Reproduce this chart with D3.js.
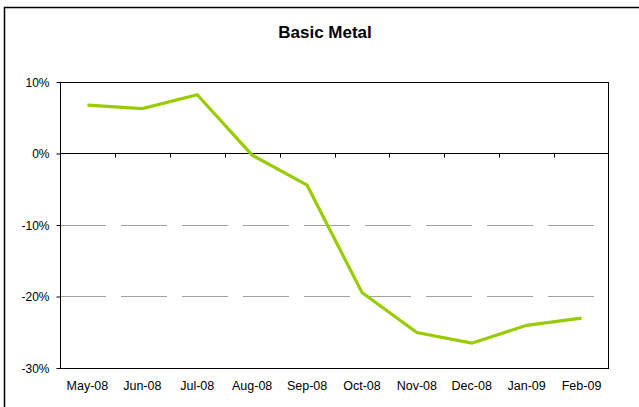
<!DOCTYPE html>
<html>
<head>
<meta charset="utf-8">
<script src="https://cdn.jsdelivr.net/npm/d3@7"></script>
<style>
  body { margin: 0; background: #fff; }
  text { font-family: "Liberation Sans", Arial, sans-serif; fill: #000; }
</style>
</head>
<body>
<script>
// data
var months = ["May-08", "Jun-08", "Jul-08", "Aug-08", "Sep-08", "Oct-08", "Nov-08", "Dec-08", "Jan-09", "Feb-09"];
var values = [6.7, 6.2, 8.15, -0.3, -4.5, -19.5, -25.1, -26.6, -24.1, -23.1];
var yTicks = [10, 0, -10, -20, -30];
var dashedLevels = [-10, -20];

var width = 639, height = 407;
var plot = { left: 60, right: 609, top: 81.5, bottom: 367.5 };

var svg = d3.select("body").append("svg")
            .attr("width", width)
            .attr("height", height);

// outer frame (right and bottom edges run off the picture)
svg.append("rect")
   .attr("x", 4.5).attr("y", 7.5)
   .attr("width", 700).attr("height", 500)
   .attr("fill", "#fff")
   .attr("stroke", "#000")
   .attr("stroke-width", 1.5);

svg.append("text")
   .attr("x", 325).attr("y", 38)
   .attr("text-anchor", "middle")
   .style("font-size", "17px")
   .style("font-weight", "bold")
   .text("Basic Metal");

var x = d3.scaleBand().domain(months).range([plot.left, plot.right]);
var y = d3.scaleLinear().domain([-30, 10]).range([plot.bottom, plot.top]);

// dashed gridlines
svg.append("g")
   .selectAll("line.grid")
   .data(dashedLevels)
   .enter()
     .append("line")
     .classed("grid", true)
     .attr("x1", plot.left)
     .attr("x2", plot.right)
     .attr("y1", function(d) { return Math.round(y(d)) + 0.5; })
     .attr("y2", function(d) { return Math.round(y(d)) + 0.5; })
     .attr("stroke", "#a0a0a0")
     .attr("stroke-width", 1)
     .attr("stroke-dasharray", "46,15");

// plot border
svg.append("rect")
   .attr("x", plot.left + 0.5).attr("y", Math.round(plot.top) + 0.5)
   .attr("width", plot.right - plot.left - 1)
   .attr("height", Math.round(plot.bottom) - Math.round(plot.top))
   .attr("fill", "none")
   .attr("stroke", "#000")
   .attr("stroke-width", 1);

// y axis
var yAxis = d3.axisLeft(y)
   .tickValues(yTicks)
   .tickSize(4)
   .tickFormat(function(d) { return d + "%"; });
var gy = svg.append("g")
   .attr("transform", "translate(" + (plot.left + 0.5) + ",0.5)")
   .call(yAxis);
gy.select(".domain").remove();
gy.selectAll("text").style("font-size", "12px").attr("x", -11).attr("dy", "0.35em");

// x axis on the zero line, ticks at category boundaries
var zeroY = Math.round(y(0)) + 0.5;
svg.append("line")
   .attr("x1", plot.left).attr("x2", plot.right)
   .attr("y1", zeroY).attr("y2", zeroY)
   .attr("stroke", "#000");
svg.append("g")
   .selectAll("line.tick")
   .data(months.slice(1))
   .enter()
     .append("line")
     .attr("x1", function(d) { return Math.round(x(d)) + 0.5; })
     .attr("x2", function(d) { return Math.round(x(d)) + 0.5; })
     .attr("y1", zeroY)
     .attr("y2", zeroY + 4)
     .attr("stroke", "#000");

// category labels under the plot
svg.append("g")
   .selectAll("text.cat")
   .data(months)
   .enter()
     .append("text")
     .attr("x", function(d) { return x(d) + x.bandwidth() / 2; })
     .attr("y", 390)
     .attr("text-anchor", "middle")
     .style("font-size", "12.5px")
     .text(function(d) { return d; });

// series line
var line = d3.line()
   .x(function(d, i) { return x(months[i]) + x.bandwidth() / 2; })
   .y(function(d) { return y(d); });
svg.append("path")
   .datum(values)
   .attr("d", line)
   .attr("fill", "none")
   .attr("stroke", "#99cc00")
   .attr("stroke-width", 3.2)
   .attr("stroke-linejoin", "miter");
</script>
</body>
</html>
